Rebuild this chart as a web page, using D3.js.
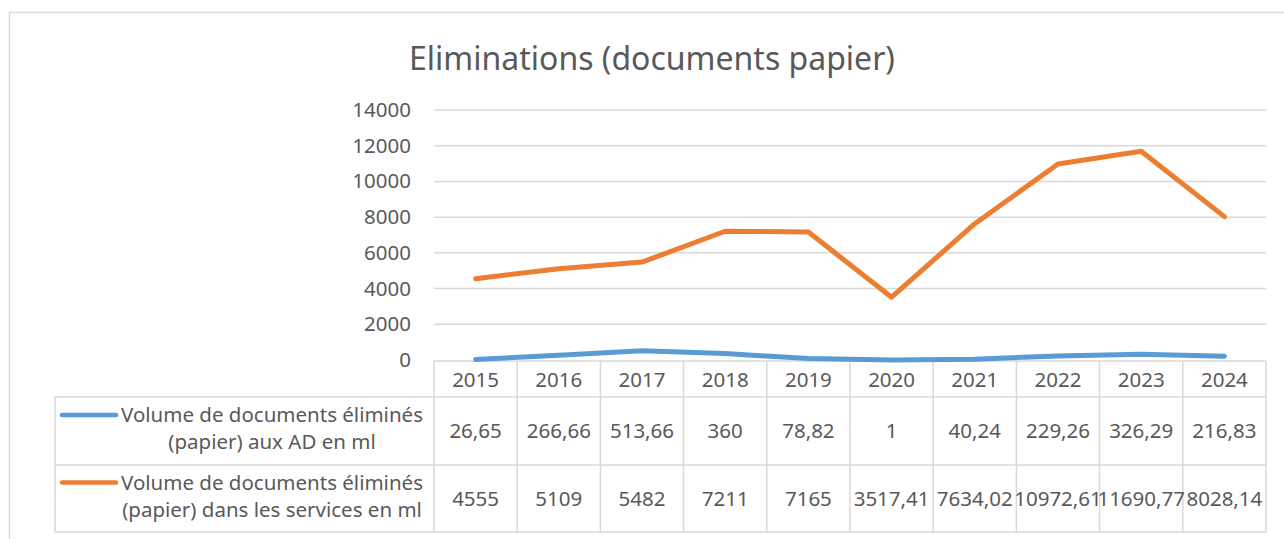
<!DOCTYPE html>
<meta charset="utf-8">
<style>
body { margin: 0; background: #fff; }
text { font-family: "Noto Sans", "Open Sans", sans-serif; fill: #595959; }
</style>
<body>
<script src="https://d3js.org/d3.v7.min.js"></script>
<script>
// data
var years = ["2015", "2016", "2017", "2018", "2019", "2020", "2021", "2022", "2023", "2024"];
var adValues = [26.65, 266.66, 513.66, 360, 78.82, 1, 40.24, 229.26, 326.29, 216.83];
var servValues = [4555, 5109, 5482, 7211, 7165, 3517.41, 7634.02, 10972.61, 11690.77, 8028.14];
var seriesNames = [
  ["Volume de documents éliminés", "(papier) aux AD en ml"],
  ["Volume de documents éliminés", "(papier) dans les services en ml"]
];
var yTicks = [0, 2000, 4000, 6000, 8000, 10000, 12000, 14000];
var colors = ["#5b9bd5", "#ed7d31"];

var W = 1284, H = 539;
var fs = "20.5px";
var svg = d3.select("body").append("svg")
    .attr("width", W)
    .attr("height", H);

// chart frame
svg.append("path")
    .attr("d", "M9.5," + H + "V12.5H" + W)
    .attr("fill", "none")
    .attr("stroke", "#d9d9d9")
    .attr("stroke-width", 1.5);

// title
svg.append("text")
    .attr("x", 652)
    .attr("y", 70)
    .attr("text-anchor", "middle")
    .style("font-size", "32px")
    .text("Eliminations (documents papier)");

var x = d3.scaleBand().domain(years).range([434, 1266]);
var y = d3.scaleLinear().domain([0, 14000]).range([360, 110]);
var cx = function(d) { return x(d) + x.bandwidth() / 2; };

// gridlines
svg.append("g").selectAll("line")
    .data(yTicks.slice(1))
  .enter().append("line")
    .attr("x1", 434).attr("x2", 1266)
    .attr("y1", function(d) { return y(d); })
    .attr("y2", function(d) { return y(d); })
    .attr("stroke", "#d9d9d9")
    .attr("stroke-width", 1.5);

// y axis labels
svg.append("g").selectAll("text")
    .data(yTicks)
  .enter().append("text")
    .attr("x", 411)
    .attr("y", function(d) { return y(d) + 7; })
    .attr("text-anchor", "end")
    .style("font-size", fs)
    .text(function(d) { return d; });

// data table
var rowTop = [361, 397, 465, 532];
var grid = svg.append("g")
    .attr("stroke", "#d9d9d9")
    .attr("stroke-width", 1.5)
    .attr("fill", "none");
grid.append("line").attr("x1", 434).attr("x2", 1266).attr("y1", rowTop[0]).attr("y2", rowTop[0]);
[1, 2, 3].forEach(function(i) {
  grid.append("line").attr("x1", 55).attr("x2", 1266).attr("y1", rowTop[i]).attr("y2", rowTop[i]);
});
years.forEach(function(d) {
  grid.append("line").attr("x1", x(d)).attr("x2", x(d)).attr("y1", rowTop[0]).attr("y2", rowTop[3]);
});
grid.append("line").attr("x1", 1266).attr("x2", 1266).attr("y1", rowTop[0]).attr("y2", rowTop[3]);
grid.append("line").attr("x1", 55).attr("x2", 55).attr("y1", rowTop[1]).attr("y2", rowTop[3]);

// year header
svg.append("g").selectAll("text")
    .data(years)
  .enter().append("text")
    .attr("x", cx)
    .attr("y", 387)
    .attr("text-anchor", "middle")
    .style("font-size", fs)
    .text(function(d) { return d; });

var fmt = function(v) { return String(v).replace(".", ","); };
[adValues, servValues].forEach(function(vals, s) {
  var mid = (rowTop[s + 1] + rowTop[s + 2]) / 2;
  svg.append("g").selectAll("text")
      .data(vals)
    .enter().append("text")
      .attr("x", function(d, i) { return cx(years[i]); })
      .attr("y", mid + 7)
      .attr("text-anchor", "middle")
      .style("font-size", fs)
      .text(fmt);

  // legend key
  svg.append("line")
      .attr("x1", 62).attr("x2", 116)
      .attr("y1", mid - 16).attr("y2", mid - 16)
      .attr("stroke", colors[s])
      .attr("stroke-width", 4.5)
      .attr("stroke-linecap", "round");
  seriesNames[s].forEach(function(t, k) {
    svg.append("text")
        .attr("x", 272)
        .attr("y", mid - 9 + k * 27)
        .attr("text-anchor", "middle")
        .style("font-size", fs)
        .text(t);
  });
});

// lines
var line = d3.line()
    .x(function(d, i) { return cx(years[i]); })
    .y(function(d) { return y(d); });

[adValues, servValues].forEach(function(vals, s) {
  svg.append("path")
      .datum(vals)
      .attr("fill", "none")
      .attr("stroke", colors[s])
      .attr("stroke-width", 5)
      .attr("stroke-linecap", "round")
      .attr("stroke-linejoin", "round")
      .attr("d", line);
});
</script>
</body>
